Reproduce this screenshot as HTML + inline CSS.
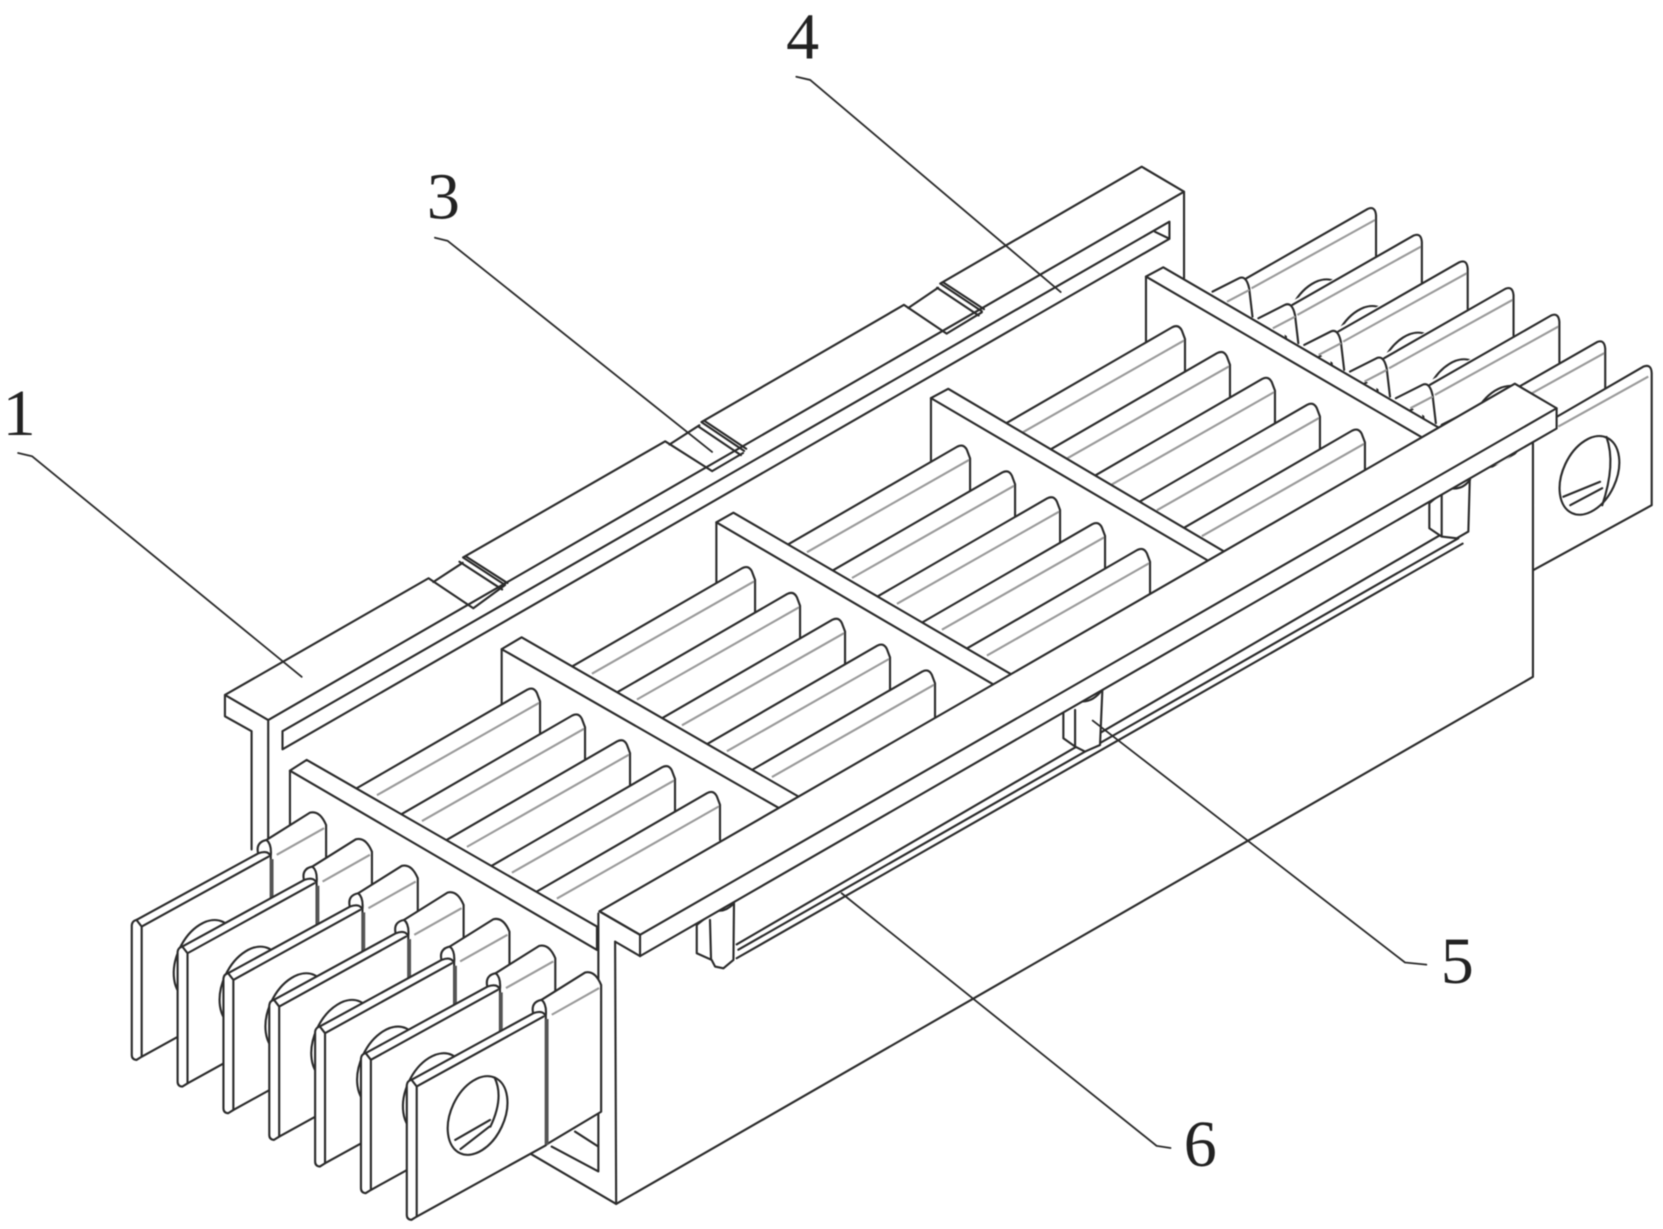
<!DOCTYPE html>
<html><head><meta charset="utf-8"><title>Diagram</title>
<style>
html,body{margin:0;padding:0;background:#fff}
svg{display:block;width:1663px;height:1229px;filter:blur(.45px)}
.l{fill:none;stroke:#2b2b2b;stroke-width:2;stroke-linejoin:round;stroke-linecap:round}
.t{fill:none;stroke:#2b2b2b;stroke-width:1.7;stroke-linecap:round;stroke-linejoin:round}
.g{fill:none;stroke:#9a9a9a;stroke-width:2}
.d{fill:none;stroke:#555;stroke-width:3.2}
.w{fill:#fff;stroke:none}
.b{fill:#fff;stroke:#2b2b2b;stroke-width:2;stroke-linejoin:round}
text{font-family:"Liberation Serif",serif;font-size:62px;fill:#222;text-anchor:middle}
</style></head><body>
<svg xmlns="http://www.w3.org/2000/svg" viewBox="0 0 1560 1153" preserveAspectRatio="none">
<defs>
<g id="fin">
<path class="w" d="M-172,81.5 L-12,-11 L0,0 L0,34 L-172,133Z"/>
<path class="l" d="M-172,81.5 L-12,-11 Q-6,-14 -3,-8 L0,0 L0,33"/>
<path class="g" d="M-153,88 L-1,1.5"/>
</g>
<g id="sec">
<use href="#fin" transform="translate(506.6,658)"/>
<use href="#fin" transform="translate(548.8,682.25)"/>
<use href="#fin" transform="translate(591,706.5)"/>
<use href="#fin" transform="translate(633.2,730.75)"/>
<use href="#fin" transform="translate(675.4,755)"/>
</g>
<g id="plate">
<path class="w" d="M248,790 L291,762 L302,766 L306,774 L306,893 L252,925Z"/>
<path class="l" d="M250,788 L290.8,762.4 Q300,760 305.9,774 L305.9,893 L254,924"/>
<path class="g" d="M259.6,802 L304,777"/>
<path class="b" d="M123.6,868 Q124,864 128,863 L242.4,800.5 Q252,797 254,804 L254,924.5 L133,991.3 L128,994.4 Q123.6,994 123.6,989.7Z"/>
<path class="l" d="M128,863 L132.9,869.3 L251.8,803.7 M132.9,869.3 L132.9,991.3 M242,800 Q240,790 250,788 Q255,792 254,803"/>
<path class="d" d="M255,806 L255,924"/>
</g>
<ellipse id="wash" class="b" cx="149" cy="876" rx="26" ry="40" transform="rotate(25 149 876)"/>
<g id="rear">
<path class="w" d="M1137.4,273.6 L1162.4,261 L1285,195.4 L1290.8,202 L1290.8,250 L1175,318 L1175,297Z"/>
<path class="l" d="M1137.4,273.6 L1162.4,261 Q1169,258 1171.8,270.5 L1174.9,297"/>
<path class="g" d="M1151,283 L1172,272"/>
<path class="l" d="M1169.4,261 L1283,196 Q1290,193 1290.8,202 L1290.8,240"/>
<path class="g" d="M1174,270.5 L1289.8,206.4"/>
</g>
<ellipse id="rw" class="b" cx="1235" cy="300" rx="26" ry="40" transform="rotate(25 1235 300)"/>
</defs>

<!-- back rail -->
<path class="l" d="M211,652 L402,542.5 L444,570.6 M406.5,546 L434,528 M434.4,523 L473.8,548.8 M431,527 L471,553 M437,522 L476,547 M444,570.6 L473.8,548.8
M434.4,523 L624,414 L668,442 M628,417 L656,399 M658,396 L698,423 M655,400 L695,427 M661,395 L700,421 M668,442 L697,425
M658,396 L848,286 L888,313 M852,289 L880,270 M882,266 L921,292 M879,270 L918,296 M885,265 L923,290 M888,313 L921,293
M882,266 L1071,156.4 L1110.7,179.8 L251.6,675.5 L211,652 L211,672 L236,686 L236,797 M251.6,675.5 L251.6,787
M1110.7,179.8 L1110.7,261
M265,686 L1097,208 L1097,224 L1083.5,217.5 M265,686 L265,703 L1097,224"/>

<!-- rear tabs -->
<use href="#rear"/>
<use href="#rw"/>
<use href="#rear" transform="translate(43,25)"/>
<use href="#rw" transform="translate(43,25)"/>
<use href="#rear" transform="translate(86,50)"/>
<use href="#rw" transform="translate(86,50)"/>
<use href="#rear" transform="translate(129,75)"/>
<use href="#rw" transform="translate(129,75)"/>
<use href="#rear" transform="translate(172,100)"/>
<use href="#rw" transform="translate(172,100)"/>
<use href="#rear" transform="translate(215,125)"/>
<path class="b" d="M1438,404 L1541.5,344 Q1549,341 1549.4,350 L1549.4,474 L1438,535Z"/>
<path class="g" d="M1461.8,400.2 L1546.2,353.3"/>
<ellipse class="l" cx="1491" cy="446" rx="25" ry="39" transform="rotate(25 1491 446)"/>
<path class="l" d="M1507,410 Q1516,435 1503,474 M1466.5,466 L1501,452 M1473,474 L1503,458"/>

<!-- frame 5 and section 4 -->
<path class="w" d="M1075,259.5 L1335,411 L1335,495 L1075,340Z"/>
<path class="l" d="M1075,259.5 L1075,320"/>
<path class="b" d="M1075,259.5 L1091.2,250.8 L1351,402 L1335,411Z"/>
<use href="#sec" transform="translate(605,-340)"/>
<!-- frame 4 and section 3 -->
<path class="w" d="M873.3,373.5 L1135,527 L1135,610 L873.3,455Z"/>
<path class="l" d="M873.3,373.5 L873.3,440"/>
<path class="b" d="M873.3,373.5 L889.5,364.8 L1151,519 L1135,527Z"/>
<use href="#sec" transform="translate(403.4,-228)"/>
<!-- frame 3 and section 2 -->
<path class="w" d="M672,490 L935,644 L935,725 L672,570Z"/>
<path class="l" d="M672,490 L672,555"/>
<path class="b" d="M672,490 L688,481 L951,634 L935,644Z"/>
<use href="#sec" transform="translate(201.7,-114)"/>
<!-- frame 2 and section 1 -->
<path class="w" d="M470.6,609 L734,760 L734,840 L470.6,690Z"/>
<path class="l" d="M470.6,609 L470.6,675"/>
<path class="b" d="M470.6,609 L489.3,597.9 L752,749 L734,760Z"/>
<use href="#sec"/>
<!-- frame 1 -->
<path class="w" d="M272,723 L560,891 L560,1100 L272,950Z"/>
<path class="l" d="M272,723 L272,790"/>
<path class="b" d="M272,723 L287.7,712.9 L560,869.3 L560,891.2Z"/>

<!-- box -->
<path class="w" d="M577,883.4 L600.4,897.4 L1438,417 L1438,635 L578,1129.5Z"/>
<path class="l" d="M1438,417 L1438,635 L578,1129.5"/>
<path class="w" d="M561.3,857 L577,883.4 L578,1129.5 L497,1082 L561.3,1044Z"/>
<path class="l" d="M561.3,857 L561.3,1099 L517.5,1075.7 M539.4,1061.6 L561.3,1075.7 M577,883.4 L578,1129.5 L497,1082"/>

<!-- left plates -->
<use href="#plate"/>
<use href="#wash" transform="translate(43,25)"/>
<use href="#plate" transform="translate(43,25)"/>
<use href="#wash" transform="translate(86,50)"/>
<use href="#plate" transform="translate(86,50)"/>
<use href="#wash" transform="translate(129,75)"/>
<use href="#plate" transform="translate(129,75)"/>
<use href="#wash" transform="translate(172,100)"/>
<use href="#plate" transform="translate(172,100)"/>
<use href="#wash" transform="translate(215,125)"/>
<use href="#plate" transform="translate(215,125)"/>
<use href="#wash" transform="translate(258,150)"/>
<use href="#plate" transform="translate(258,150)"/>
<ellipse class="l" cx="448" cy="1046.5" rx="25" ry="39" transform="rotate(25 448 1046.5)"/>
<path class="l" d="M464,1011 Q473,1030 460,1057 M427,1069.4 L459.7,1050.7 M432,1078 L459,1057"/>

<!-- slide rail and posts -->
<path class="l" d="M691,886 L1351,502 M692.6,891 L1368,505 M691,899 L1372,510"/>
<path class="b" d="M653.6,867.7 L653.6,894.3 L667.6,900.6 L670.8,906.8 L678.6,908.4 L688,900.6 L688.6,840 Z"/>
<path class="l" d="M666,863 L667,900 M672,854 Q680,856 688,848"/>
<path class="b" d="M997.5,667.6 L997.5,692.6 L1008.5,700.4 L1017.8,705.1 L1031.9,698.9 L1034.4,640 Z"/>
<path class="l" d="M1008.5,666 L1008.5,700 M1016,658 Q1026,658 1034,647"/>
<path class="b" d="M1340.8,472.1 L1340.8,495.6 L1352.4,503.4 L1366.5,505 L1377.4,498.7 L1379,440 Z"/>
<path class="l" d="M1352.4,464.3 L1352.4,503 M1360,458 Q1372,460 1379,450"/>

<!-- front rail -->
<path class="b" d="M562.3,855 L1421,360 L1460.2,383 L1460.2,402 L600.4,897 L600.4,877Z"/>
<path class="l" d="M600.4,877 L1460.2,383 M600.4,897 L577,883.4 M562.3,855 L600.4,877"/>

<!-- leaders -->
<path class="t" d="M17,425 L30,428 L283,635"/>
<path class="t" d="M408,223 L420,226 L668,424"/>
<path class="t" d="M747,72 L760,75 L995,274"/>
<path class="t" d="M1025,676 L1318,903 L1338,905"/>
<path class="t" d="M789.5,838 L1085,1075 L1098,1077"/>

<text x="18" y="408">1</text>
<text x="416" y="205">3</text>
<text x="753" y="55">4</text>
<text x="1367" y="922">5</text>
<text x="1126" y="1094">6</text>
</svg>
</body></html>
